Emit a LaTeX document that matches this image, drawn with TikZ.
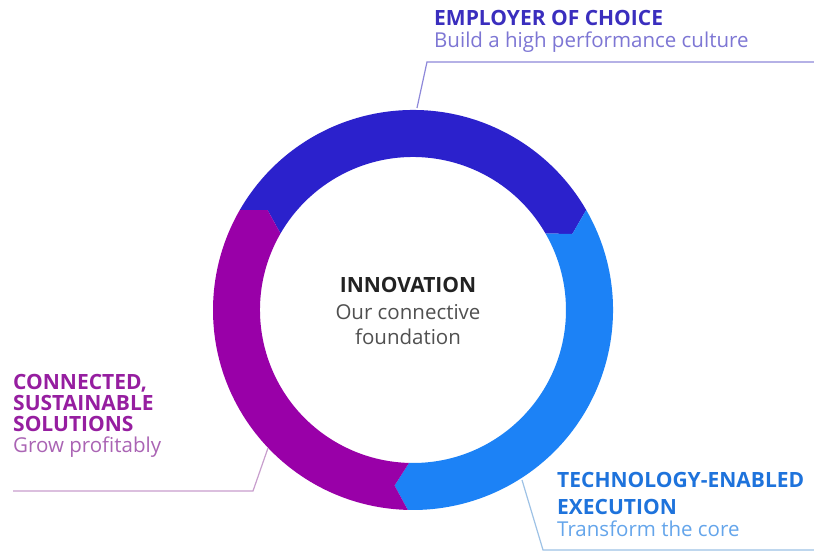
\documentclass[tikz,border=0pt]{standalone}
\usepackage{fontspec}
\setmainfont{Open Sans}
\definecolor{segA}{RGB}{43,33,204}
\definecolor{segB}{RGB}{28,130,246}
\definecolor{segC}{RGB}{153,0,168}
\definecolor{lineA}{RGB}{142,136,218}
\definecolor{lineB}{RGB}{158,194,230}
\definecolor{lineC}{RGB}{200,158,205}
\definecolor{ttlA}{RGB}{58,46,190}
\definecolor{subA}{RGB}{125,118,212}
\definecolor{ttlB}{RGB}{30,115,220}
\definecolor{subB}{RGB}{100,165,235}
\definecolor{ttlC}{RGB}{150,30,160}
\definecolor{subC}{RGB}{170,100,180}
\definecolor{ttlD}{RGB}{34,34,34}
\definecolor{subD}{RGB}{80,80,80}
\newcommand\Ro{200}
\newcommand\Ri{153}
\newcommand\Rm{176.5}
\newcommand\dd{4.5}
\newcommand\ringseg[3]{%
  \fill[#1] (#2:\Ro) arc[start angle=#2,end angle=#3,radius=\Ro]
    -- ({#3-\dd}:\Rm) -- (#3:\Ri)
    arc[start angle=#3,end angle=#2,radius=\Ri]
    -- ({#2-\dd}:\Rm) -- cycle;}
\begin{document}
\begin{tikzpicture}[x=1pt,y=1pt,
  ttl/.style={font=\bfseries\fontsize{21}{24}\selectfont, anchor=base west, inner sep=0pt},
  sub/.style={font=\fontsize{20.5}{24}\selectfont, anchor=base west, inner sep=0pt},
  ctr/.style={anchor=base, inner sep=0pt},
  leader/.style={line width=1.2pt, line join=miter}]
\useasboundingbox (0,0) rectangle (814,554);
\fill[white] (0,0) rectangle (814,554);
\begin{scope}[shift={(413,244)}]
  \ringseg{segA}{150}{30}
  \ringseg{segB}{30}{-91.5}
  \ringseg{segC}{268.5}{150}
\end{scope}
% leader lines
\coordinate (ta) at (417,446);
\coordinate (tb) at (427,492);
\coordinate (tc) at (814,492);
\coordinate (la) at (268,106);
\coordinate (lb) at (253,63);
\coordinate (lc) at (13,63);
\coordinate (ra) at (522,74);
\coordinate (rb) at (543,4);
\coordinate (rc) at (814,4);
\draw[leader, lineA] (ta) -- (tb) -- (tc);
\draw[leader, lineC] (la) -- (lb) -- (lc);
\draw[leader, lineB] (ra) -- (rb) -- (rc);
% top
\node[ttl, text=ttlA] (t1) at (434,528) {EMPLOYER OF CHOICE};
\node[sub, text=subA] (t2) at (434,506) {Build a high performance culture};
% left
\node[ttl, text=ttlC] (l1) at (13,164) {CONNECTED,};
\node[ttl, text=ttlC] (l2) at (13,143) {SUSTAINABLE};
\node[ttl, text=ttlC] (l3) at (13,122) {SOLUTIONS};
\node[sub, text=subC] (l4) at (13,101) {Grow profitably};
% right
\node[ttl, text=ttlB] (r1) at (557,66) {TECHNOLOGY-ENABLED};
\node[ttl, text=ttlB] (r2) at (557,39) {EXECUTION};
\node[sub, text=subB] (r3) at (557,17) {Transform the core};
% center
\node[ttl, ctr, text=ttlD] (c1) at (408,261) {INNOVATION};
\node[sub, ctr, text=subD] (c2) at (408,234) {Our connective};
\node[sub, ctr, text=subD] (c3) at (408,209) {foundation};
\end{tikzpicture}
\end{document}
